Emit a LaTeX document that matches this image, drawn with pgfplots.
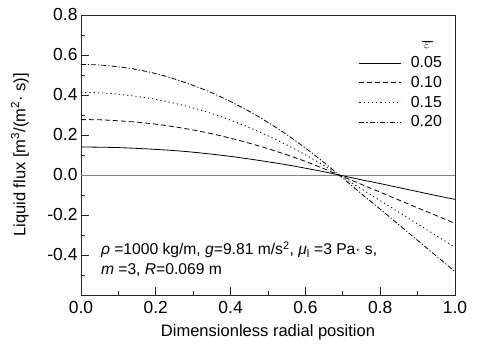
\documentclass[border=0pt]{standalone}
\usepackage{fontspec}
\setmainfont{Liberation Sans}
\usepackage{pgfplots}
\pgfplotsset{compat=1.18}
\begin{document}
\begin{tikzpicture}
\begin{axis}[
  scale only axis,
  width=374bp, height=280bp,
  xmin=0, xmax=1, ymin=-0.6, ymax=0.8,
  axis line style={line width=0.8bp, black!85},
  xtick={0,0.2,0.4,0.6,0.8,1.0},
  minor xtick={0.1,0.3,0.5,0.7,0.9},
  ytick={-0.4,-0.2,0,0.2,0.4,0.6,0.8},
  minor ytick={-0.5,-0.3,-0.1,0.1,0.3,0.5,0.7},
  xtick pos=bottom, ytick pos=left,
  tick align=inside,
  major tick length=8bp, minor tick length=4bp,
  tick style={line width=0.8bp, black!85},
  /pgf/number format/assume math mode=true,
  /pgf/number format/.cd, fixed, fixed zerofill, precision=1, /pgfplots/.cd,
  ticklabel style={font=\fontsize{17.5}{20}\selectfont},
  xticklabel style={yshift=-3bp},
  label style={font=\fontsize{16.6}{19}\selectfont},
  xlabel={Dimensionless radial position},
  ylabel={Liquid flux [m\textsuperscript{3}/(m\textsuperscript{2}· s)]},
  xlabel style={at={(axis description cs:0.5,-0.134)}, anchor=center},
  ylabel style={at={(axis description cs:-0.163,0.5)}, anchor=center, rotate=0},
  legend style={draw=none, fill=none, font=\fontsize{16}{19}\selectfont,
    at={(axis description cs:0.735,0.925)}, anchor=north west, row sep=3bp, column sep=7bp},
  legend cell align=left,
  legend image code/.code={\draw[#1] (0bp,0bp) -- (42bp,0bp);},
]
\addlegendimage{empty legend}
\addlegendentry{\makebox[2.05em][c]{\Large$\overline{\,\varepsilon\,}$}}
\addplot[gray, line width=0.8bp, forget plot] coordinates {(0,0) (1,0)};
\addplot[black, line width=0.8bp, smooth] coordinates {
(0,0.140) (0.05,0.139) (0.1,0.137) (0.15,0.133) (0.2,0.128) (0.25,0.122)
(0.3,0.114) (0.35,0.104) (0.4,0.093) (0.45,0.080) (0.5,0.066) (0.55,0.051)
(0.6,0.034) (0.65,0.016) (0.69,0) (0.75,-0.024) (0.8,-0.043) (0.85,-0.063)
(0.9,-0.083) (0.95,-0.103) (1.0,-0.122)};
\addlegendentry{0.05}
\addplot[black, line width=0.8bp, smooth, dash pattern=on 5bp off 3bp] coordinates {
(0,0.277) (0.05,0.276) (0.1,0.271) (0.15,0.264) (0.2,0.254) (0.25,0.241)
(0.3,0.225) (0.35,0.206) (0.4,0.184) (0.45,0.159) (0.5,0.132) (0.55,0.101)
(0.6,0.068) (0.65,0.031) (0.69,0) (0.75,-0.047) (0.8,-0.086) (0.85,-0.125)
(0.9,-0.164) (0.95,-0.203) (1.0,-0.242)};
\addlegendentry{0.10}
\addplot[black, line width=0.8bp, smooth, dash pattern=on 1.2bp off 3bp] coordinates {
(0,0.413) (0.05,0.411) (0.1,0.404) (0.15,0.393) (0.2,0.378) (0.25,0.359)
(0.3,0.335) (0.35,0.307) (0.4,0.274) (0.45,0.237) (0.5,0.196) (0.55,0.151)
(0.6,0.101) (0.65,0.047) (0.69,0) (0.75,-0.070) (0.8,-0.128) (0.85,-0.186)
(0.9,-0.245) (0.95,-0.303) (1.0,-0.361)};
\addlegendentry{0.15}
\addplot[black, line width=0.8bp, smooth, dash pattern=on 5bp off 2bp on 1.2bp off 2bp] coordinates {
(0,0.553) (0.05,0.550) (0.1,0.541) (0.15,0.527) (0.2,0.507) (0.25,0.480)
(0.3,0.448) (0.35,0.411) (0.4,0.367) (0.45,0.318) (0.5,0.263) (0.55,0.202)
(0.6,0.135) (0.65,0.062) (0.69,0) (0.75,-0.094) (0.8,-0.171) (0.85,-0.249)
(0.9,-0.327) (0.95,-0.405) (1.0,-0.483)};
\addlegendentry{0.20}
\node[anchor=west, font=\fontsize{15.7}{18}\selectfont, inner sep=0pt] at (axis cs:0.053,-0.375)
  {\textit{ρ} =1000 kg/m, \textit{g}=9.81 m/s\textsuperscript{2}, \textit{μ}\textsubscript{l} =3 Pa· s,};
\node[anchor=west, font=\fontsize{15.7}{18}\selectfont, inner sep=0pt] at (axis cs:0.053,-0.475)
  {\textit{m} =3, \textit{R}=0.069 m};
\end{axis}
\pgfresetboundingbox
\path (current axis.south west) ++(-81bp,-50bp) coordinate (bbl);
\path (current axis.north east) ++(23bp,15bp) coordinate (btr);
\path (bbl) rectangle (btr);
\end{tikzpicture}
\end{document}
